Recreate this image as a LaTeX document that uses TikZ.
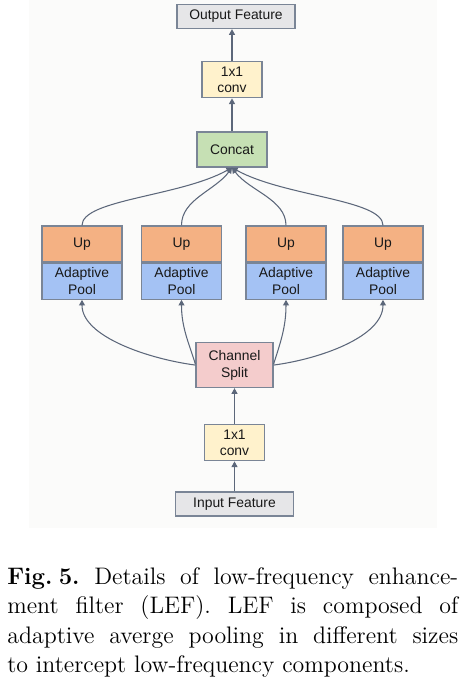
\documentclass[tikz,border=0pt]{standalone}
\usepackage{fontspec}
\newfontfamily\diagfont{Liberation Sans}
\usepackage{tikz}
\usetikzlibrary{arrows.meta, positioning}
\definecolor{bgpanel}{HTML}{FBFBFA}
\definecolor{boxline}{HTML}{7A8596}
\definecolor{wire}{HTML}{5C677A}
\definecolor{featgray}{HTML}{E6E6E8}
\definecolor{convyellow}{HTML}{FFF2CC}
\definecolor{catgreen}{HTML}{C6E0B4}
\definecolor{uporange}{HTML}{F4B183}
\definecolor{poolblue}{HTML}{A4C2F4}
\definecolor{splitpink}{HTML}{F4CCCC}
\tikzstyle{blk} = [rectangle, draw=boxline, line width=0.7pt, align=center, inner sep=0pt, text=black!90, font=\diagfont\fontsize{7.9}{9.5}\selectfont]
\tikzstyle{arrow} = [-{Triangle[length=3.2pt,width=3.4pt]}, line width=0.6pt, draw=wire]

\begin{document}
\begin{tikzpicture}[
        x=0.02cm, y=-0.02cm,
        feat/.style={blk, fill=featgray, minimum width=2.36cm, minimum height=0.48cm},
        conv/.style={blk, fill=convyellow, minimum width=1.2cm, minimum height=0.72cm},
        upbox/.style={blk, fill=uporange, minimum width=1.6cm, minimum height=0.72cm},
        poolbox/.style={blk, fill=poolblue, minimum width=1.6cm, minimum height=0.72cm},
        caption/.style={anchor=north west, inner sep=0pt, text width=9.02cm, align=justify, font=\fontsize{13.6}{16.8}\selectfont\frenchspacing}
        ]

        \useasboundingbox (0,0) rectangle (472,681);
        \fill[bgpanel] (29,0) rectangle (437,528);

        % main column
        \node[feat] (input) at (234.5,504) {Input Feature};
        \node[conv, above=0.6cm of input] (conv_in) {1x1\\conv};
        \node[blk, fill=splitpink, minimum width=1.54cm, minimum height=0.9cm, above=0.72cm of conv_in] (split) {Channel\\Split};

        % pooling branches
        \foreach \x [count=\i] in {82,181.5,286,383} {
            \node[upbox] (up\i) at (\x,244) {Up};
            \node[poolbox, below=0pt of up\i] (pool\i) {Adaptive\\Pool};
        }

        \node[blk, fill=catgreen, minimum width=1.4cm, minimum height=0.7cm] (concat) at (232,149.5) {Concat};
        \node[conv, above=0.66cm of concat] (conv_out) {1x1\\conv};
        \node[feat, above=0.64cm of conv_out, xshift=0.08cm] (output) {Output Feature};

        \draw[arrow] (input) -- (conv_in);
        \draw[arrow] (conv_in) -- (split);
        \draw[arrow] (split.west) .. controls +(-46,-6) and +(0,37) .. (pool1.south);
        \draw[arrow] ([yshift=0.02cm]split.west) .. controls +(-7,-22) and +(0,27) .. (pool2.south);
        \draw[arrow] ([yshift=0.02cm]split.east) .. controls +(7,-22) and +(0,27) .. (pool3.south);
        \draw[arrow] (split.east) .. controls +(46,-6) and +(0,37) .. (pool4.south);

        \draw[arrow] (up1.north) .. controls +(0,-26) and +(-52,29) .. (concat.south);
        \draw[arrow] (up2.north) .. controls +(0,-26) and +(-17,23) .. (concat.south);
        \draw[arrow] (up3.north) .. controls +(0,-26) and +(17,23) .. (concat.south);
        \draw[arrow] (up4.north) .. controls +(0,-26) and +(52,29) .. (concat.south);
        \draw[arrow] (concat) -- (conv_out);
        \draw[arrow] (conv_out) -- (conv_out |- output.south);

        \node[caption] (cap) at (7,567) {\textbf{Fig.\kern3.5pt5.} Details of low-frequency enhance-\linebreak ment filter (LEF). LEF is composed of\linebreak adaptive averge pooling in different sizes\linebreak to intercept low-frequency components.};

    \end{tikzpicture}
\end{document}
